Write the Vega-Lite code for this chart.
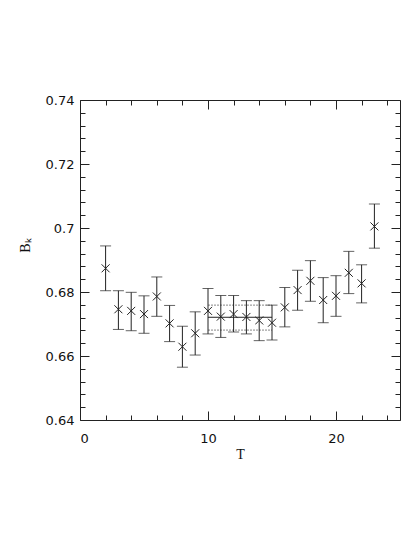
{
  "$schema": "https://vega.github.io/schema/vega-lite/v6.json",
  "autosize": "none",
  "width": 320,
  "height": 320,
  "padding": {"left": 80, "top": 100, "right": 15, "bottom": 117},
  "background": "white",
  "config": {
    "view": {"stroke": null},
    "axis": {
      "grid": false,
      "domainColor": "#222",
      "tickColor": "#222",
      "labelColor": "#111",
      "titleColor": "#111",
      "labelFont": "DejaVu Sans",
      "labelFontSize": 13,
      "titleFont": "Liberation Serif",
      "titleFontSize": 14,
      "titleFontWeight": "normal"
    }
  },
  "datasets": {
    "pts": [
      {"T": 2, "B": 0.6874, "lo": 0.6804, "hi": 0.6944},
      {"T": 3, "B": 0.6746, "lo": 0.6683, "hi": 0.6804},
      {"T": 4, "B": 0.6741, "lo": 0.6679, "hi": 0.6799},
      {"T": 5, "B": 0.6731, "lo": 0.6671, "hi": 0.6788},
      {"T": 6, "B": 0.6786, "lo": 0.6724, "hi": 0.6847},
      {"T": 7, "B": 0.6702, "lo": 0.6645, "hi": 0.6758},
      {"T": 8, "B": 0.6629, "lo": 0.6565, "hi": 0.6693},
      {"T": 9, "B": 0.6671, "lo": 0.6603, "hi": 0.6738},
      {"T": 10, "B": 0.6741, "lo": 0.6669, "hi": 0.6811},
      {"T": 11, "B": 0.6723, "lo": 0.6658, "hi": 0.6789},
      {"T": 12, "B": 0.6731, "lo": 0.6675, "hi": 0.6789},
      {"T": 13, "B": 0.6722, "lo": 0.6669, "hi": 0.6773},
      {"T": 14, "B": 0.6711, "lo": 0.6648, "hi": 0.6773},
      {"T": 15, "B": 0.6704, "lo": 0.6650, "hi": 0.6759},
      {"T": 16, "B": 0.6752, "lo": 0.6691, "hi": 0.6814},
      {"T": 17, "B": 0.6806, "lo": 0.6743, "hi": 0.6868},
      {"T": 18, "B": 0.6835, "lo": 0.6771, "hi": 0.6898},
      {"T": 19, "B": 0.6775, "lo": 0.6704, "hi": 0.6845},
      {"T": 20, "B": 0.6788, "lo": 0.6724, "hi": 0.6851},
      {"T": 21, "B": 0.6860, "lo": 0.6795, "hi": 0.6927},
      {"T": 22, "B": 0.6827, "lo": 0.6766, "hi": 0.6885},
      {"T": 23, "B": 0.7005, "lo": 0.6937, "hi": 0.7075}
    ],
    "fit": [
      {"t0": 10, "t1": 15, "y": 0.6759, "kind": "error"},
      {"t0": 10, "t1": 15, "y": 0.6681, "kind": "error"},
      {"t0": 10, "t1": 15, "y": 0.6721, "kind": "fit"}
    ]
  },
  "resolve": {"axis": {"x": "independent", "y": "independent"}},
  "layer": [
    {
      "data": {"name": "fit"},
      "transform": [{"filter": "datum.kind === 'error'"}],
      "mark": {"type": "rule", "color": "#888", "strokeWidth": 1, "strokeDash": [2, 1]},
      "encoding": {
        "x": {"field": "t0", "type": "quantitative", "scale": {"domain": [0, 25], "nice": false},
          "axis": {
            "orient": "bottom",
            "values": [0, 2, 4, 6, 8, 10, 12, 14, 16, 18, 20, 22, 24],
            "tickSize": {"condition": {"test": "datum.value % 10 === 0", "value": -9}, "value": -5},
            "labelExpr": "datum.value % 10 === 0 ? datum.label : ''",
            "labelPadding": 21,
            "title": "T",
            "titlePadding": 2
          }},
        "x2": {"field": "t1"},
        "y": {"field": "y", "type": "quantitative", "scale": {"domain": [0.64, 0.74], "nice": false, "zero": false},
          "axis": {
            "orient": "left",
            "values": [0.64, 0.644, 0.648, 0.652, 0.656, 0.66, 0.664, 0.668, 0.672, 0.676, 0.68, 0.684, 0.688, 0.692, 0.696, 0.7, 0.704, 0.708, 0.712, 0.716, 0.72, 0.724, 0.728, 0.732, 0.736, 0.74],
            "tickSize": {"condition": {"test": "abs(datum.value*50 - round(datum.value*50)) < 0.000001", "value": -9}, "value": -5},
            "labelExpr": "abs(datum.value*50 - round(datum.value*50)) < 0.000001 ? format(datum.value, '~g') : ''",
            "labelPadding": 15,
            "title": "Bₖ",
            "titlePadding": 13,
            "titleY": 145
          }}
      }
    },
    {
      "data": {"name": "fit"},
      "transform": [{"filter": "datum.kind === 'fit'"}],
      "mark": {"type": "rule", "color": "#222", "strokeWidth": 1},
      "encoding": {
        "x": {"field": "t0", "type": "quantitative", "axis": null},
        "x2": {"field": "t1"},
        "y": {"field": "y", "type": "quantitative", "axis": null}
      }
    },
    {
      "data": {"name": "pts"},
      "mark": {"type": "rule", "color": "#222", "strokeWidth": 1},
      "encoding": {
        "x": {"field": "T", "type": "quantitative", "axis": null},
        "y": {"field": "lo", "type": "quantitative", "axis": null},
        "y2": {"field": "hi"}
      }
    },
    {
      "data": {"name": "pts"},
      "mark": {"type": "tick", "orient": "horizontal", "color": "#222", "size": 11, "thickness": 1},
      "encoding": {
        "x": {"field": "T", "type": "quantitative", "axis": null},
        "y": {"field": "lo", "type": "quantitative", "axis": null}
      }
    },
    {
      "data": {"name": "pts"},
      "mark": {"type": "tick", "orient": "horizontal", "color": "#222", "size": 11, "thickness": 1},
      "encoding": {
        "x": {"field": "T", "type": "quantitative", "axis": null},
        "y": {"field": "hi", "type": "quantitative", "axis": null}
      }
    },
    {
      "data": {"name": "pts"},
      "mark": {"type": "point", "shape": "M-1,-1L1,1M-1,1L1,-1", "filled": false, "color": "#222", "strokeWidth": 1, "size": 64, "opacity": 1},
      "encoding": {
        "x": {"field": "T", "type": "quantitative",
          "axis": {
            "orient": "top",
            "values": [0, 2, 4, 6, 8, 10, 12, 14, 16, 18, 20, 22, 24],
            "tickSize": {"condition": {"test": "datum.value % 10 === 0", "value": -9}, "value": -5},
            "labels": false,
            "title": null
          }},
        "y": {"field": "B", "type": "quantitative",
          "axis": {
            "orient": "right",
            "values": [0.64, 0.644, 0.648, 0.652, 0.656, 0.66, 0.664, 0.668, 0.672, 0.676, 0.68, 0.684, 0.688, 0.692, 0.696, 0.7, 0.704, 0.708, 0.712, 0.716, 0.72, 0.724, 0.728, 0.732, 0.736, 0.74],
            "tickSize": {"condition": {"test": "abs(datum.value*50 - round(datum.value*50)) < 0.000001", "value": -9}, "value": -5},
            "labels": false,
            "title": null
          }}
      }
    }
  ]
}
